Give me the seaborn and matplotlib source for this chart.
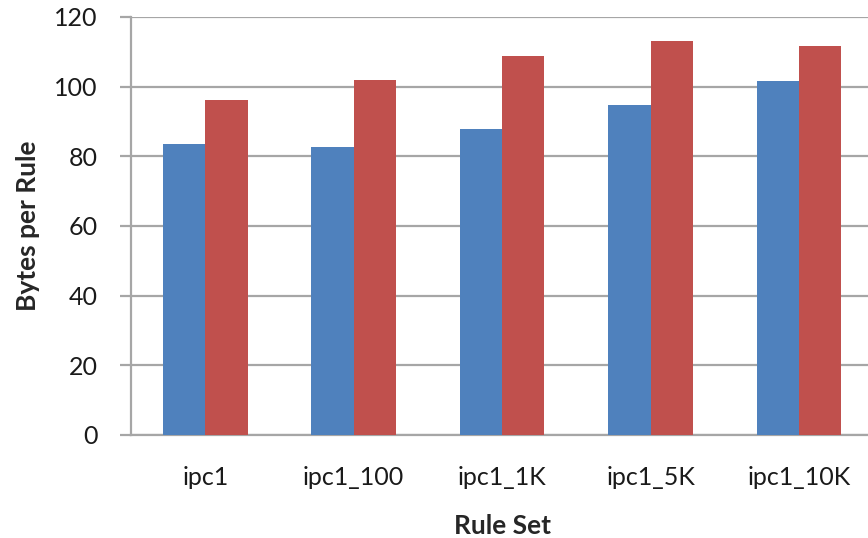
import pandas as pd
import matplotlib.pyplot as plt
import seaborn as sns
from matplotlib.ticker import FixedLocator

# values
rule_sets = ['ipc1', 'ipc1_100', 'ipc1_1K', 'ipc1_5K', 'ipc1_10K']
series_blue = [83.5, 82.7, 87.7, 94.7, 101.7]
series_red = [96.3, 101.9, 108.8, 113.1, 111.8]
series_names = ['Series 1', 'Series 2']
colors = ['#4F81BD', '#C0504D']


def main():
    df = pd.DataFrame({
        'Rule Set': rule_sets * 2,
        'Bytes per Rule': series_blue + series_red,
        'Series': [series_names[0]] * len(rule_sets) + [series_names[1]] * len(rule_sets),
    })

    sns.set_style("white")
    plt.rcParams['font.family'] = ['Lato', 'DejaVu Sans']

    fig = plt.figure(figsize=(8.68, 5.38), dpi=100)
    ax = fig.add_axes([0.151, 0.1915, 0.855, 0.777])

    sns.barplot(data=df, x='Rule Set', y='Bytes per Rule', hue='Series',
                palette=colors, width=0.57, ax=ax, saturation=1,
                legend=False, edgecolor='none', zorder=3)

    ax.set_ylim(0, 120)
    ax.set_xlim(-0.5, 4.5)
    ax.set_yticks(range(0, 121, 20))
    ax.yaxis.grid(True, color='#A6A6A6', linewidth=1.6, zorder=0)
    ax.set_axisbelow(True)

    for side in ['top', 'right']:
        ax.spines[side].set_visible(False)
    for side in ['left', 'bottom']:
        ax.spines[side].set_color('#A6A6A6')
        ax.spines[side].set_linewidth(1.6)

    # category ticks sit between groups, labels centered under each group
    ax.xaxis.set_minor_locator(FixedLocator([i - 0.5 for i in range(len(rule_sets) + 1)]))
    ax.tick_params(axis='x', which='major', length=0, pad=22, labelsize=18, labelcolor='#1a1a1a')
    ax.tick_params(axis='x', which='minor', length=9, width=1.6, color='#A6A6A6', direction='out')
    ax.tick_params(axis='y', which='major', left=True, length=8, width=1.6,
                   color='#A6A6A6', direction='out', pad=16, labelsize=18, labelcolor='#1a1a1a')

    ax.set_xlabel('Rule Set', fontsize=19, fontweight='bold', labelpad=18)
    ax.set_ylabel('Bytes per Rule', fontsize=19, fontweight='bold', labelpad=10)

    fig.savefig('out.png', dpi=100)


if __name__ == '__main__':
    main()
